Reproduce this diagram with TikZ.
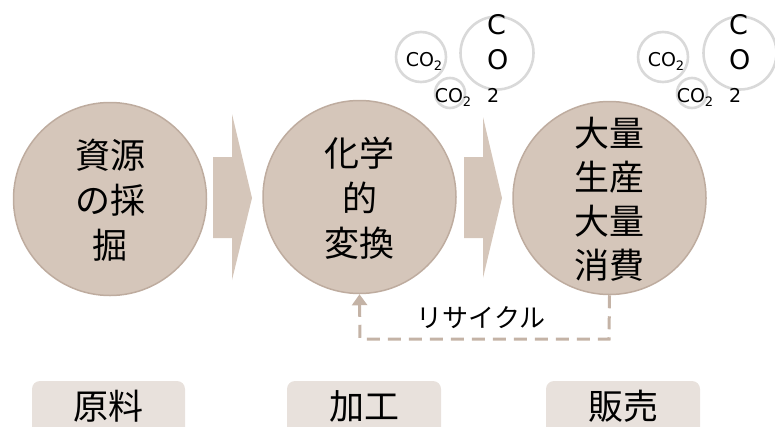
\documentclass[tikz,border=0pt]{standalone}
\usepackage{fontspec}
\setmainfont{Noto Sans CJK JP}
\newfontfamily\latfont{DejaVu Sans}
\usetikzlibrary{arrows.meta}
\definecolor{circfill}{HTML}{D5C6BA}
\definecolor{circdraw}{HTML}{BEAC9F}
\definecolor{dashcol}{HTML}{C4B3A6}
\definecolor{boxfill}{HTML}{E8E1DC}
\definecolor{ringcol}{HTML}{D9D9D9}
\tikzset{
  bigcirc/.style={circle, fill=circfill, draw=circdraw, line width=1.5pt, minimum size=193pt, inner sep=0pt},
  circtext/.style={align=center, font=\fontsize{35}{45}\selectfont, text=black},
  chevron/.style={fill=circfill, draw=none},
  ring/.style={circle, draw=ringcol, line width=2.6pt, inner sep=0pt},
  cotext/.style={font=\latfont\fontsize{19}{19}\selectfont, text=black, inner sep=0pt},
  bigco/.style={font=\latfont\fontsize{27}{35}\selectfont, text=black, align=left, inner sep=0pt},
  labbox/.style={fill=boxfill, rounded corners=8pt},
  labtext/.style={font=\fontsize{35}{40}\selectfont, text=black, inner sep=0pt},
  recyc/.style={draw=dashcol, line width=3pt, dash pattern=on 13pt off 8pt, -{Triangle[width=15pt,length=11pt]}},
}
\newcommand{\cotwo}{CO{\fontsize{13}{13}\selectfont\raisebox{-4pt}{2}}}
\begin{document}
\begin{tikzpicture}[x=1pt,y=-1pt]
\useasboundingbox (0,0) rectangle (775,426);
\begin{scope}
\clip (0,0) rectangle (775,426);
% chevron arrows
\fill[chevron] (213,157) -- (232,157) -- (232,114) -- (252,198) -- (232,280) -- (232,238) -- (213,238) -- cycle;
\fill[chevron] (464,157) -- (483,157) -- (483,117) -- (502,198) -- (483,278) -- (483,238) -- (464,238) -- cycle;
% circles
\node[bigcirc] (c1) at (110,199) {};
\node[bigcirc] (c2) at (359.5,197) {};
\node[bigcirc] (c3) at (609.5,198) {};
\node[circtext] (t1) at (110,200) {資源\\の採\\掘};
\node[circtext] (t2) at (359.5,198) {化学\\的\\変換};
\node[circtext, font=\fontsize{35}{44}\selectfont] (t3) at (609.5,199) {大量\\生産\\大量\\消費};
% recycle
\coordinate (r1) at (609,339);
\coordinate (r2) at (360,339);
\draw[recyc] (c3.south) -- (r1) -- (r2) -- (c2.south);
\node[font=\fontsize{26}{26}\selectfont, text=black] (rt) at (481,318) {リサイクル};
% CO2 group 1
\node[ring, minimum size=50pt] (a1) at (421,57) {};
\node[ring, minimum size=73pt] (a2) at (497,53) {};
\node[ring, minimum size=30pt] (a3) at (450,93) {};
\node[cotext] (a1t) at (424,61) {\cotwo};
\node[cotext] (a3t) at (453,97) {\cotwo};
\node[bigco, anchor=north west] (a2t) at (487,14) {C\\O\\[-2pt]{\fontsize{19}{19}\selectfont 2}};
% CO2 group 2
\node[ring, minimum size=50pt] (b1) at (663,57) {};
\node[ring, minimum size=73pt] (b2) at (740,53) {};
\node[ring, minimum size=30pt] (b3) at (692,93) {};
\node[cotext] (b1t) at (666,61) {\cotwo};
\node[cotext] (b3t) at (695,97) {\cotwo};
\node[bigco, anchor=north west] (b2t) at (729,14) {C\\O\\[-2pt]{\fontsize{19}{19}\selectfont 2}};
% bottom labels
\node[labbox, minimum width=153pt, minimum height=70pt] (l1) at (108.5,416) {};
\node[labbox, minimum width=154pt, minimum height=70pt] (l2) at (364,416) {};
\node[labbox, minimum width=154pt, minimum height=70pt] (l3) at (623,416) {};
\node[labtext] (l1t) at (108.5,406) {原料};
\node[labtext] (l2t) at (364,406) {加工};
\node[labtext] (l3t) at (623,406) {販売};
\end{scope}
\end{tikzpicture}
\end{document}
